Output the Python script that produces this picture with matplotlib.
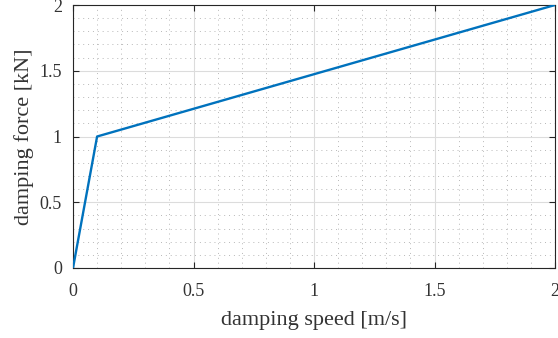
import matplotlib
matplotlib.use('Agg')
import matplotlib.pyplot as plt
from matplotlib.ticker import MultipleLocator

# damping characteristic: speed [m/s] vs force [kN]
speed = [0.0, 0.1, 2.0]
force = [0.0, 1.0, 2.0]

xticks = [0, 0.5, 1, 1.5, 2]
yticks = [0, 0.5, 1, 1.5, 2]
xticklabels = ['0', '0.5', '1', '1.5', '2']
yticklabels = ['0', '0.5', '1', '1.5', '2']

plt.rcParams['font.family'] = ['Liberation Serif', 'DejaVu Serif']
plt.rcParams['font.size'] = 13

fig = plt.figure(figsize=(5.58, 3.38), dpi=100)
ax = fig.add_axes([73 / 558, 70 / 338, 482 / 558, 263 / 338])

ax.plot(speed, force, color='#0072BD', lw=1.7, zorder=3)

ax.set_xlim(0, 2)
ax.set_ylim(0, 2)
ax.set_xticks(xticks)
ax.set_xticklabels(xticklabels)
ax.set_yticks(yticks)
ax.set_yticklabels(yticklabels)
ax.xaxis.set_minor_locator(MultipleLocator(0.1))
ax.yaxis.set_minor_locator(MultipleLocator(0.1))

ax.grid(True, which='major', color='#dcdcdc', lw=0.8)
ax.grid(True, which='minor', color='#b8b8b8', lw=0.7, ls=(0, (1, 4)))
ax.set_axisbelow(True)

for s in ax.spines.values():
    s.set_color('#262626')
    s.set_linewidth(0.8)

ax.tick_params(which='major', direction='in', length=4, width=0.8, colors='#262626',
               top=True, right=True, labelcolor='#333333', labelsize=13)
ax.tick_params(axis='x', which='major', pad=11)
ax.tick_params(axis='y', which='major', pad=8)
ax.tick_params(which='minor', length=0, top=True, right=True)

ax.set_xlabel('damping speed [m/s]', color='#333333', fontsize=16, labelpad=8)
ax.set_ylabel('damping force [kN]', color='#333333', fontsize=16, labelpad=4)

fig.savefig('out.png', dpi=100)
